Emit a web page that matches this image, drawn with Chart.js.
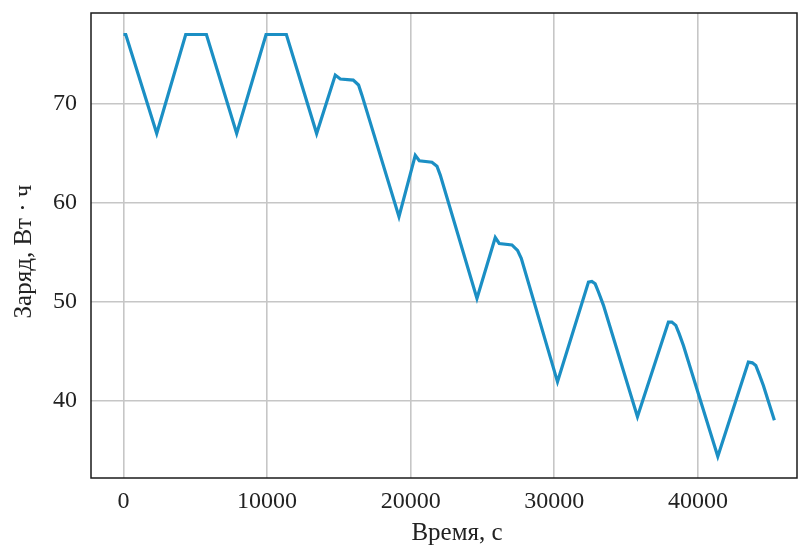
<!DOCTYPE html>
<html lang="ru">
<head>
  <meta charset="UTF-8">
  <title>Заряд батареи</title>
  <script src="https://cdn.jsdelivr.net/npm/chart.js"></script>
  <style>
    html, body { margin: 0; padding: 0; background: #fff; }
    canvas { display: block; }
  </style>
</head>
<body>
  <canvas id="chargeChart" width="799" height="549"></canvas>

  <script>
    // Время, с
    const timeS = [
      0, 160, 2317, 4335, 5776, 7884, 9930, 11343, 13452,
      14750, 15100, 16000, 16370, 16600, 19185,
      20320, 20600, 21480, 21830, 22060, 24614,
      25890, 26165, 27050, 27440, 27700, 30223,
      32380, 32617, 32846, 33076, 33424, 35790,
      37947, 38184, 38462, 38692, 38991, 41385,
      43514, 43793, 44030, 44259, 44558, 45324
    ];
    // Заряд, Вт·ч
    const chargeWh = [
      77.0, 77.0, 67.0, 77.0, 77.0, 67.0, 77.0, 77.0, 67.0,
      72.9, 72.5, 72.4, 71.9, 70.9, 58.6,
      64.8, 64.25, 64.1, 63.7, 62.8, 50.35,
      56.5, 55.9, 55.75, 55.2, 54.4, 41.93,
      52.0, 52.07, 51.83, 51.0, 49.65, 38.4,
      47.96, 47.96, 47.63, 46.8, 45.6, 34.4,
      43.92, 43.85, 43.59, 42.74, 41.57, 38.06
    ];
    const xTicks = [0, 10000, 20000, 30000, 40000];
    const yTicks = [40, 50, 60, 70];
    const xLabel = 'Время, с';
    const yLabel = 'Заряд, Вт · ч';

    const points = timeS.map((t, i) => ({ x: t, y: chargeWh[i] }));
    const serif = 'Liberation Serif, Times New Roman, serif';

    // рамка вокруг области графика и подписи осей
    const frame = {
      id: 'frame',
      afterDraw(chart) {
        const { ctx, chartArea: a } = chart;
        ctx.save();
        ctx.strokeStyle = '#1a1a1a';
        ctx.lineWidth = 1.5;
        ctx.strokeRect(a.left, a.top, a.right - a.left, a.bottom - a.top);

        ctx.fillStyle = '#222';
        ctx.font = '25px ' + serif;
        ctx.textAlign = 'center';
        ctx.textBaseline = 'alphabetic';
        ctx.fillText(xLabel, (a.left + a.right) / 2 + 13, 540);

        ctx.translate(31, (a.top + a.bottom) / 2 + 6);
        ctx.rotate(-Math.PI / 2);
        ctx.fillText(yLabel, 0, 0);
        ctx.restore();
      }
    };

    new Chart(document.getElementById('chargeChart'), {
      type: 'line',
      data: {
        datasets: [{
          data: points,
          borderColor: '#1b8fc4',
          borderWidth: 3.2,
          pointRadius: 0,
          tension: 0,
          fill: false
        }]
      },
      options: {
        responsive: false,
        animation: false,
        layout: { padding: { top: 13, right: 2, left: 0, bottom: 0 } },
        plugins: { legend: { display: false }, tooltip: { enabled: false } },
        scales: {
          x: {
            type: 'linear',
            min: -2260,
            max: 46900,
            afterBuildTicks: s => { s.ticks = xTicks.map(v => ({ value: v })); },
            afterFit: s => { s.height = 71; s.paddingLeft = 0; s.paddingRight = 0; },
            grid: { color: '#c6c6c6', lineWidth: 1.6, drawTicks: false },
            border: { display: false },
            ticks: {
              padding: 9,
              color: '#222',
              font: { family: serif, size: 24 },
              callback: v => String(v)
            }
          },
          y: {
            min: 32.22,
            max: 79.17,
            afterBuildTicks: s => { s.ticks = yTicks.map(v => ({ value: v })); },
            afterFit: s => { s.width = 91; s.paddingTop = 0; s.paddingBottom = 0; },
            grid: { color: '#c6c6c6', lineWidth: 1.6, drawTicks: false },
            border: { display: false },
            ticks: {
              padding: 14,
              color: '#222',
              font: { family: serif, size: 24 },
              callback: v => String(v)
            }
          }
        }
      },
      plugins: [frame]
    });
  </script>
</body>
</html>
